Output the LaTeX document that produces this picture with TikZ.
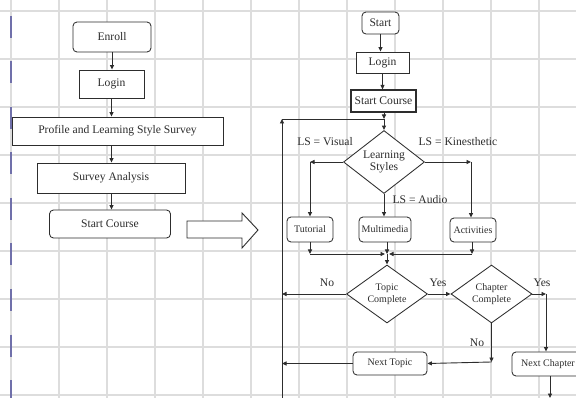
\documentclass[tikz,border=0pt]{standalone}
\usepackage{fontspec}
\setmainfont{Liberation Serif}
\usetikzlibrary{arrows.meta,shapes.geometric}
\definecolor{gridc}{RGB}{221,221,221}
\definecolor{purp}{RGB}{112,112,170}
\definecolor{ink}{RGB}{45,45,45}
\tikzset{
  gridline/.style={draw=gridc,line width=1.5pt},
  bigtxt/.style={font=\fontsize{11.6}{13}\selectfont,text=ink},
  smalltxt/.style={font=\fontsize{10}{12}\selectfont,text=ink},
  boxbase/.style={draw=ink,line width=0.85pt,fill=white,inner sep=0pt,align=center},
  sqbox/.style={boxbase,bigtxt},
  rbox/.style={boxbase,bigtxt,rounded corners=4pt},
  srbox/.style={boxbase,smalltxt,rounded corners=4pt},
  dia/.style={boxbase,shape=diamond,inner sep=0pt},
  arr/.style={draw=ink,line width=0.9pt,-{Triangle[length=4.5pt,width=4pt]}},
  ln/.style={draw=ink,line width=0.9pt},
  lbl/.style={bigtxt,inner sep=0pt}
}
\begin{document}
\begin{tikzpicture}[x=1pt,y=-1pt]
\useasboundingbox (0,0) rectangle (576,398);
\clip (0,0) rectangle (576,398);
\fill[white] (0,0) rectangle (576,398);
% grid
\foreach \i in {0,...,11} {\draw[gridline] ({11+48*\i},0) -- ({11+48*\i},398);}
\foreach \j in {0,...,8} {\draw[gridline] (0,{11+48*\j}) -- (576,{11+48*\j});}
% purple dashed line
\draw[purp,line width=2pt,dash pattern=on 22pt off 23.5pt] (11,16) -- (11,398);

% left column
\node[rbox,minimum width=78pt,minimum height=30pt] (enroll) at (112,37) {Enroll};
\node[sqbox,minimum width=65pt,minimum height=28pt] (login1) at (111.5,84) {Login};
\node[sqbox,minimum width=211pt,minimum height=28pt] (profile) at (117.5,131) {Profile and Learning Style Survey};
\node[sqbox,minimum width=148pt,minimum height=30pt] (survey) at (111,178) {Survey Analysis};
\node[rbox,minimum width=121pt,minimum height=28pt] (startL) at (110,224) {Start Course};
\draw[arr] (enroll.south) -- (enroll.south |- login1.north);
\draw[arr] (login1.south) -- (login1.south |- profile.north);
\draw[arr] (login1.south |- profile.south) -- (login1.south |- survey.north);
\draw[arr] (login1.south |- survey.south) -- (login1.south |- startL.north);

% block arrow
\draw[ink,line width=0.9pt,fill=white] (187,221) -- (242,221) -- (242,213) -- (258,230) -- (242,248) -- (242,238) -- (187,238) -- cycle;

% right column
\node[rbox,minimum width=37pt,minimum height=22pt] (start) at (380.5,23) {Start};
\node[sqbox,minimum width=53pt,minimum height=21pt] (login2) at (382.5,62.5) {Login};
\node[sqbox,line width=1.2pt,minimum width=65pt,minimum height=22pt] (startR) at (383.5,101) {Start Course};
\node[dia,bigtxt,minimum width=81pt,minimum height=63pt,aspect=1.29] (ls) at (384,162) {Learning\\[-1pt]Styles};
\node[srbox,minimum width=46pt,minimum height=25pt] (tut) at (310,229.5) {Tutorial};
\node[srbox,minimum width=52pt,minimum height=25pt] (mm) at (385,229.5) {Multimedia};
\node[srbox,minimum width=46pt,minimum height=24pt] (act) at (473,230) {Activities};
\node[dia,smalltxt,minimum width=81pt,minimum height=58pt,aspect=1.4] (topic) at (387,294) {Topic\\Complete};
\node[dia,smalltxt,minimum width=81pt,minimum height=58pt,aspect=1.4] (chap) at (491.5,294) {Chapter\\Complete};
\node[srbox,minimum width=74pt,minimum height=23pt] (ntopic) at (390,363.5) {Next Topic};
\node[srbox,minimum width=72pt,minimum height=24pt] (nchap) at (548,364) {Next Chapter};

% junction coordinates
\coordinate (j1) at (384,119);
\coordinate (lb) at (282,400);
\coordinate (lt) at (282,119);
\coordinate (jv) at (310,162);
\coordinate (jk) at (471,162);
\coordinate (jt) at (310,254);
\coordinate (ja) at (472,254);
\coordinate (jm) at (387,254);
\coordinate (jno) at (282,294);
\coordinate (jy) at (546,294);
\coordinate (jn) at (491.5,362);
\coordinate (jnt) at (282,363.5);
\coordinate (jb) at (550,398);

\draw[arr] (start.south) -- (start.south |- login2.north);
\draw[arr] (login2.south) -- (login2.south |- startR.north);
\draw[arr] (j1 |- startR.south) -- (j1);
\draw[arr] (j1) -- (ls.north);
\draw[arr] (lb) -- (lt);
\draw[ln] (lt) -- (j1);
\draw[arr] (ls.west) -- (jv);
\draw[arr] (jv) -- (tut.north);
\draw[arr] (ls.east) -- (jk);
\draw[arr] (jk) -- (jk |- act.north);
\draw[arr] (ls.south) -- (ls.south |- mm.north);
\draw[arr] (tut.south) -- (jt);
\draw[arr] (jt) -- ([xshift=-2pt]jm);
\draw[arr] (ja |- act.south) -- (ja);
\draw[arr] (ja) -- ([xshift=2pt]jm);
\draw[arr] (jm |- mm.south) -- (jm);
\draw[arr] (jm) -- (topic.north);
\draw[arr] (topic.west) -- (jno);
\draw[arr] (topic.east) -- (chap.west);
\draw[arr] (chap.east) -- (jy);
\draw[arr] (jy) -- (jy |- nchap.north);
\draw[arr] (chap.south) -- (jn);
\draw[arr] (jn) -- (ntopic.east);
\draw[arr] (ntopic.west) -- (jnt);
\draw[arr] (jb |- nchap.south) -- (jb);

% labels
\node[lbl] (lvis) at (325,142) {LS = Visual};
\node[lbl] (lkin) at (458,142) {LS = Kinesthetic};
\node[lbl] (laud) at (420,200) {LS = Audio};
\node[lbl] (lno1) at (327,283) {No};
\node[lbl] (lyes1) at (438,283) {Yes};
\node[lbl] (lyes2) at (542,283) {Yes};
\node[lbl] (lno2) at (477,343) {No};
\end{tikzpicture}
\end{document}
